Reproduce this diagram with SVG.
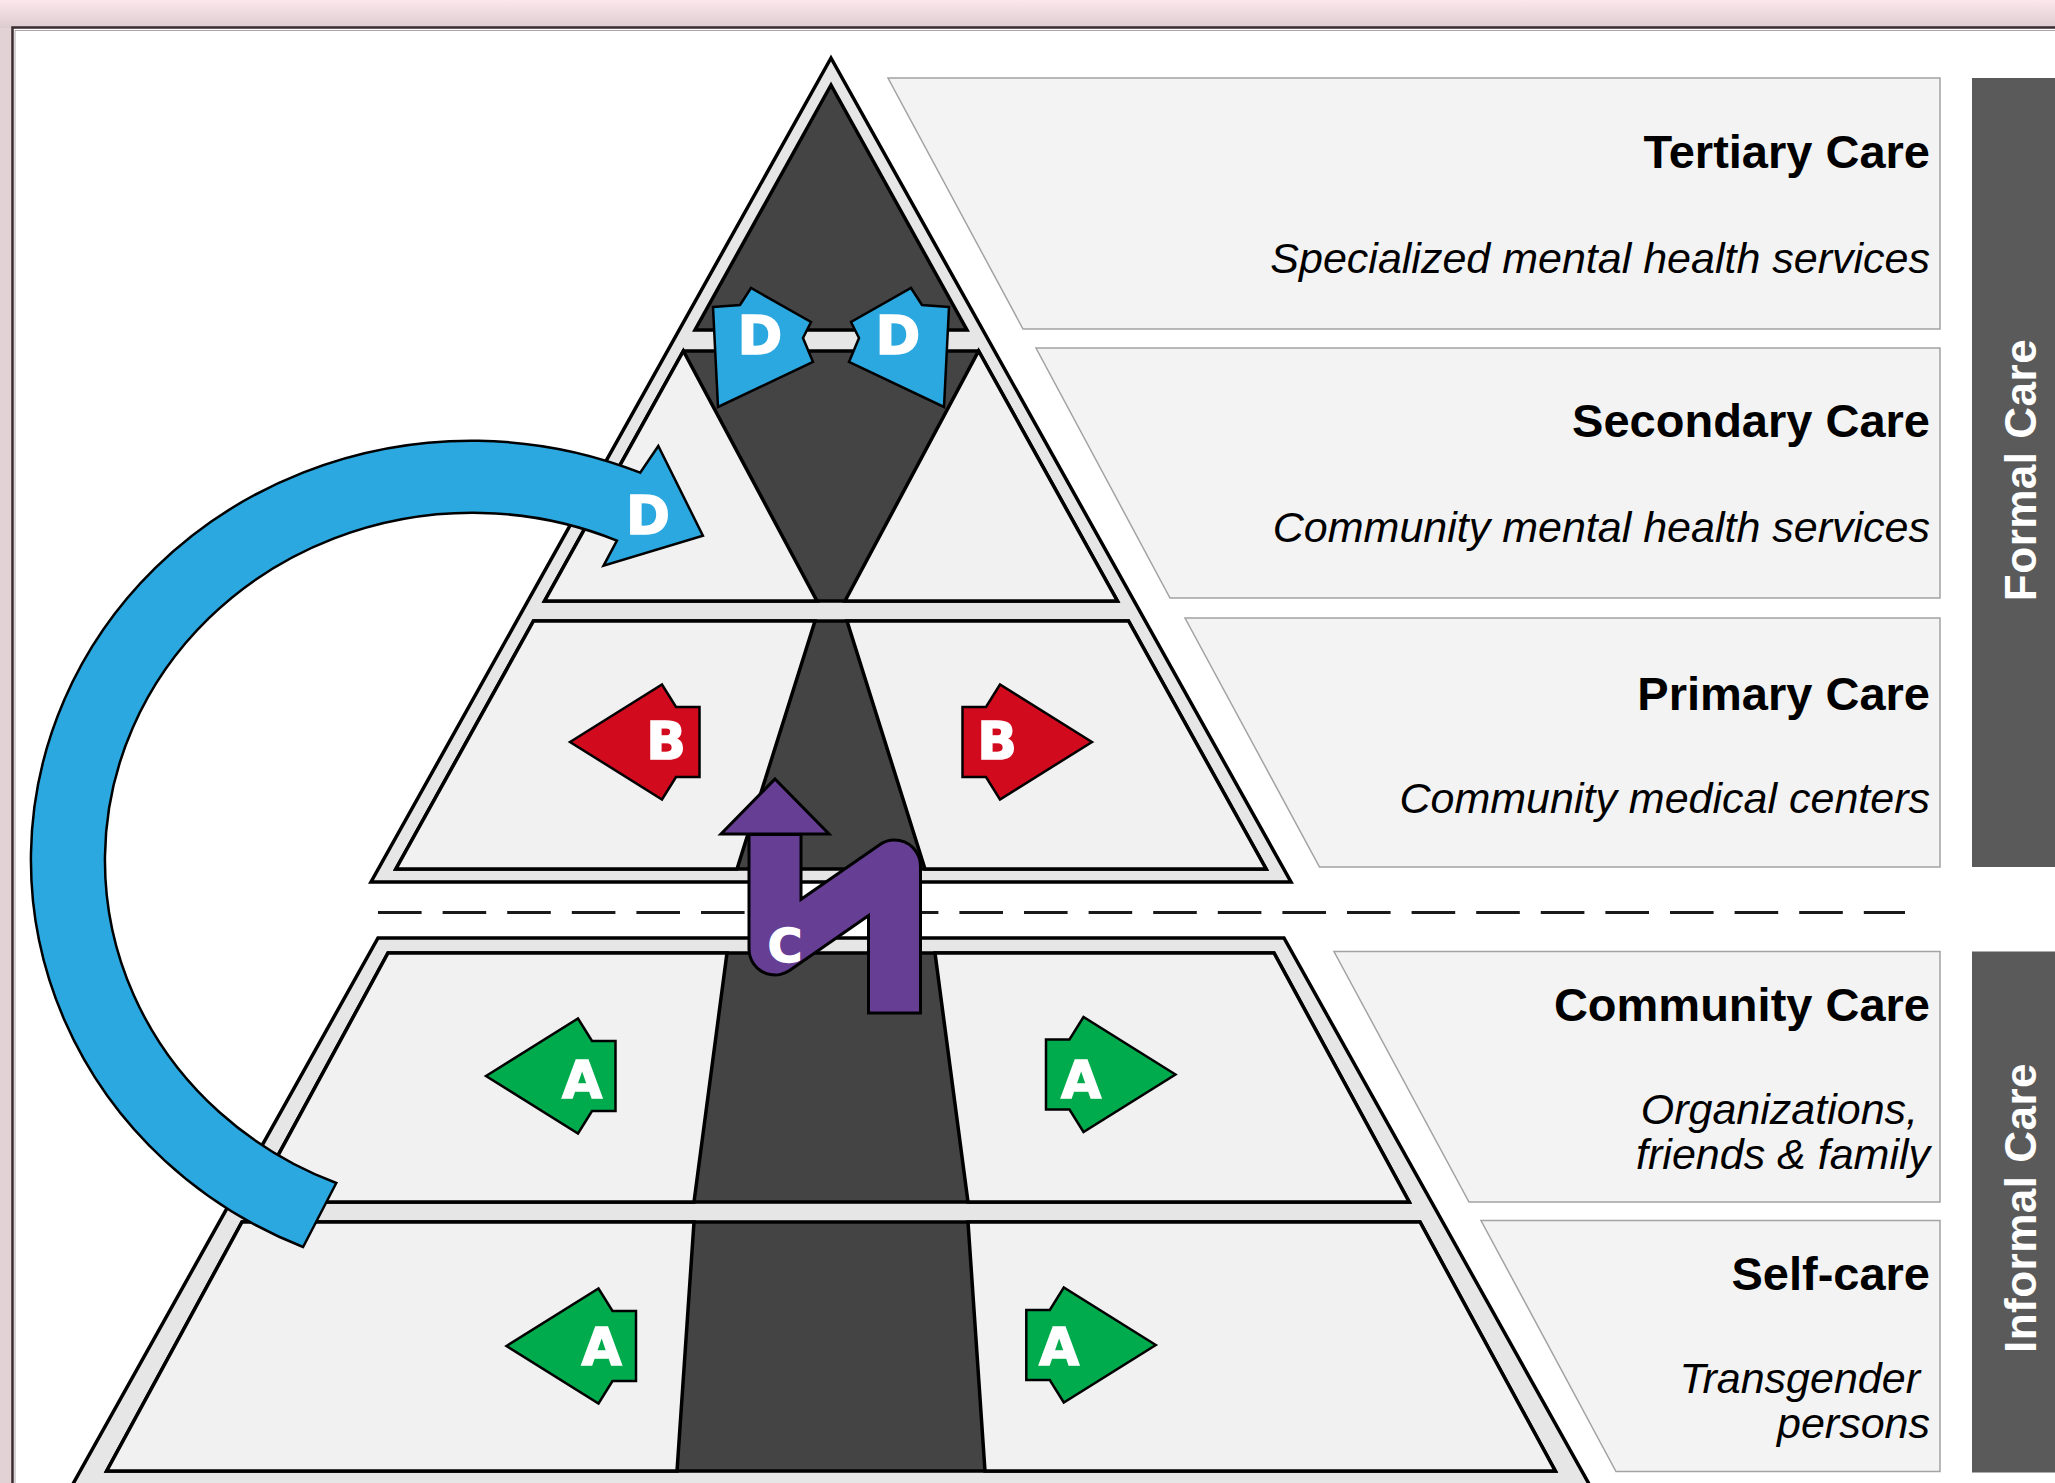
<svg xmlns="http://www.w3.org/2000/svg" width="2055" height="1483" viewBox="0 0 2055 1483">
<defs>
  <linearGradient id="topbg" x1="0" y1="0" x2="0" y2="1">
    <stop offset="0" stop-color="#fce8ec"/>
    <stop offset="1" stop-color="#dccbcf"/>
  </linearGradient>
  <polygon id="arr" points="0,0 92,-57.5 106,-35 129.5,-35 129.5,35 106,35 92,57.5"/>
</defs>
<style>
  .band{fill:#f1f1f1;stroke:#000;stroke-width:3.5;stroke-linejoin:miter}
  .outer{fill:#e6e6e6;stroke:#000;stroke-width:3.5;stroke-linejoin:miter}
  .dark{fill:#444444;stroke:#000;stroke-width:3.5;stroke-linejoin:miter}
  .box{fill:#f3f3f3;stroke:#a3a3a3;stroke-width:1.5}
  .bar{fill:#5a5a5a}
  .title{font-family:"Liberation Sans",Arial,sans-serif;font-weight:bold;font-size:47px;fill:#000;text-anchor:end}
  .sub{font-family:"Liberation Sans",Arial,sans-serif;font-style:italic;font-size:43px;fill:#000;text-anchor:end}
  .side{font-family:"Liberation Sans",Arial,sans-serif;font-weight:bold;font-size:44px;fill:#fff;text-anchor:middle;letter-spacing:0.5px}
  .lt{font-family:"DejaVu Sans","Liberation Sans",sans-serif;font-weight:bold;fill:#fff;stroke:#fff;stroke-width:1.5;text-anchor:middle}
  .green{fill:#00ab4e;stroke:#000;stroke-width:2.5;stroke-linejoin:miter}
  .red{fill:#d20a1e;stroke:#000;stroke-width:2.5;stroke-linejoin:miter}
  .blue{fill:#2ba8df;stroke:#000;stroke-width:2.5;stroke-linejoin:miter}
  .purple{fill:#663f95;stroke:#000;stroke-width:3;stroke-linejoin:miter}
</style>

<g id="frame">
  <rect x="0" y="0" width="2055" height="1483" fill="#e2d2d6"/>
  <rect x="0" y="0" width="2055" height="28" fill="url(#topbg)"/>
  <rect x="12.5" y="27.5" width="2100" height="1500" fill="#fff" stroke="#3a2b30" stroke-width="2.5"/>
  <path d="M15,1483 V30.5 H2055" fill="none" stroke="#b0a3a7" stroke-width="1"/>
</g>

<g id="side-boxes">
  <g id="box-tertiary">
    <polygon class="box" points="888,78 1940,78 1940,329 1023,329"/>
    <text class="title" x="1930" y="168">Tertiary Care</text>
    <text class="sub" x="1930" y="273">Specialized mental health services</text>
  </g>
  <g id="box-secondary">
    <polygon class="box" points="1036,348 1940,348 1940,598 1170,598"/>
    <text class="title" x="1930" y="437">Secondary Care</text>
    <text class="sub" x="1930" y="542">Community mental health services</text>
  </g>
  <g id="box-primary">
    <polygon class="box" points="1185,618 1940,618 1940,867 1319.5,867"/>
    <text class="title" x="1930" y="710">Primary Care</text>
    <text class="sub" x="1930" y="813">Community medical centers</text>
  </g>
  <g id="box-community">
    <polygon class="box" points="1334,951.5 1940,951.5 1940,1202 1469,1202"/>
    <text class="title" x="1930" y="1021">Community Care</text>
    <text class="sub" x="1918" y="1124">Organizations,</text>
    <text class="sub" x="1930" y="1169">friends &amp; family</text>
  </g>
  <g id="box-selfcare">
    <polygon class="box" points="1481,1220.5 1940,1220.5 1940,1471.5 1616,1471.5"/>
    <text class="title" x="1930" y="1289.5">Self-care</text>
    <text class="sub" x="1920" y="1393">Transgender</text>
    <text class="sub" x="1930" y="1438">persons</text>
  </g>
  <g id="bar-formal">
    <rect class="bar" x="1972" y="78" width="100" height="789"/>
    <text class="side" transform="translate(2036,470) rotate(-90)">Formal Care</text>
  </g>
  <g id="bar-informal">
    <rect class="bar" x="1972" y="951.5" width="100" height="521"/>
    <text class="side" transform="translate(2036,1208) rotate(-90)">Informal Care</text>
  </g>
</g>

<g id="pyramid">
  <polygon id="formal-outline" class="outer" points="831,58 371,882 1291,882"/>
  <polygon id="informal-outline" class="outer" points="378,938 1284,938 1598,1500 64,1500"/>
  <g id="tertiary">
    <polygon class="dark" points="831,85 695,330 967,330"/>
  </g>
  <g id="secondary">
    <polygon class="dark" points="683.4,351 978.6,351 1117.4,601 544.6,601"/>
    <polygon class="band" points="683.4,351 817,601 544.6,601"/>
    <polygon class="band" points="978.6,351 1117.4,601 845,601"/>
  </g>
  <g id="primary">
    <polygon class="dark" points="533.5,621 1128.5,621 1266.1,869 395.9,869"/>
    <polygon class="band" points="533.5,621 815,621 737,869 395.9,869"/>
    <polygon class="band" points="847,621 1128.5,621 1266.1,869 925,869"/>
  </g>
  <g id="community">
    <polygon class="dark" points="388,953 1274,953 1409.2,1202 252.8,1202"/>
    <polygon class="band" points="388,953 727,953 694,1202 252.8,1202"/>
    <polygon class="band" points="935,953 1274,953 1409.2,1202 968,1202"/>
  </g>
  <g id="selfcare">
    <polygon class="dark" points="242,1222 1420,1222 1555.3,1471 106.7,1471"/>
    <polygon class="band" points="242,1222 694,1222 677,1471 106.7,1471"/>
    <polygon class="band" points="968,1222 1420,1222 1555.3,1471 985,1471"/>
  </g>
  <line id="divider" x1="378" y1="912.5" x2="1905" y2="912.5" stroke="#1a1a1a" stroke-width="3" stroke-dasharray="43.6 21"/>
</g>

<g id="connectors">
  <g id="arrow-A-community-left">
    <use href="#arr" class="green" transform="translate(486,1076)"/>
    <text class="lt" x="582" y="1097.5" font-size="52">A</text>
  </g>
  <g id="arrow-A-community-right">
    <use href="#arr" class="green" transform="translate(1175.5,1074.5) scale(-1,1)"/>
    <text class="lt" x="1081" y="1097.5" font-size="52">A</text>
  </g>
  <g id="arrow-A-self-left">
    <use href="#arr" class="green" transform="translate(506.5,1346)"/>
    <text class="lt" x="601.5" y="1365" font-size="52">A</text>
  </g>
  <g id="arrow-A-self-right">
    <use href="#arr" class="green" transform="translate(1155.8,1345) scale(-1,1)"/>
    <text class="lt" x="1059" y="1365" font-size="52">A</text>
  </g>
  <g id="arrow-B-left">
    <use href="#arr" class="red" transform="translate(570,742)"/>
    <text class="lt" x="666" y="758.5" font-size="52">B</text>
  </g>
  <g id="arrow-B-right">
    <use href="#arr" class="red" transform="translate(1092,742) scale(-1,1)"/>
    <text class="lt" x="997" y="758.5" font-size="52">B</text>
  </g>
  <g id="arrow-C">
    <path d="M894.5,1014.5 L894.5,866 L775,949 L775,834" fill="none" stroke="#000" stroke-width="55" stroke-linejoin="round"/>
    <polygon class="purple" points="775,779 829,834 721,834"/>
    <path d="M894.5,1011.5 L894.5,866 L775,949 L775,836" fill="none" stroke="#663f95" stroke-width="49" stroke-linejoin="round"/>
    <text class="lt" x="785" y="962" font-size="47">C</text>
  </g>
  <g id="arrow-D-top-left">
    <polygon class="blue" points="713,307 740,305 751,288 811,322 803,338 813,362 718,407"/>
    <text class="lt" x="760" y="353.5" font-size="54">D</text>
  </g>
  <g id="arrow-D-top-right">
    <polygon class="blue" points="949,307 922,305 911,288 851,322 859,338 849,362 944,407"/>
    <text class="lt" x="898" y="353.5" font-size="54">D</text>
  </g>
  <g id="arrow-D-curved">
    <path class="blue" d="M303.1,1247 A440.5,419 0 1 1 640.2,472.7 L658.3,446 L702.9,535.7 L603.5,565.8 L616.9,540.6 A367.8,347.5 0 1 0 336.3,1183 Z"/>
    <text class="lt" x="648" y="533.5" font-size="53">D</text>
  </g>
</g>
</svg>
